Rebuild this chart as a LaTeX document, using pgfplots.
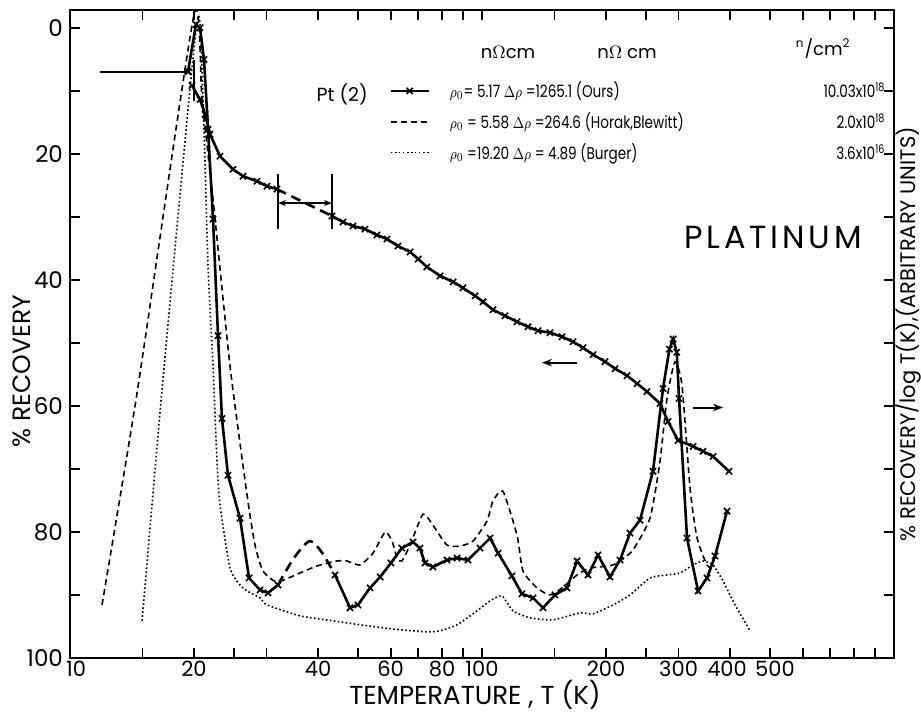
\documentclass[border=0pt]{standalone}
\usepackage{fontspec}
\setmainfont{Poppins}
\usepackage{pgfplots}
\pgfplotsset{compat=1.18}
\usetikzlibrary{arrows.meta}

\pgfplotsset{
  ours/.style={black, line width=1.3pt, mark=x, mark size=2.2pt,
    mark options={line width=0.8pt, solid}},
  gap/.style={black, line width=1.3pt, dash pattern=on 5pt off 3pt},
  horak/.style={black, line width=0.8pt, dash pattern=on 3pt off 2pt, smooth, tension=0.35},
  burger/.style={black, line width=0.8pt, dash pattern=on 0.8pt off 1.2pt, smooth, tension=0.35},
}
\newcommand{\legtext}[2]{\rule[-4pt]{0pt}{11pt}\scalebox{0.8}[1]{\makebox[272pt][l]{#1\hfill #2}}}

\begin{document}
\begin{tikzpicture}
\begin{axis}[
  scale only axis, width=412pt, height=324pt,
  xmode=log, xmin=10, xmax=1000, xminorticks=false,
  ymin=-2.8, ymax=100, y dir=reverse,
  xtick={10,15,20,25,30,40,50,60,70,80,90,100,150,200,250,300,400,500,600,700,800,900,1000},
  xticklabels={\hspace*{6pt}10,,20,,,40,,60,,80,,100,,200,,300,400\hspace*{3pt},\hspace*{5pt}500,,,,,},
  ytick={0,10,...,100},
  yticklabels={0,,20,,40,,60,,80,,100},
  major tick length=5pt,
  tick style={line width=0.9pt, black},
  axis line style={line width=1.2pt},
  yticklabel style={font=\fontsize{11.5}{13}\selectfont},
  xticklabel style={font=\fontsize{10.5}{12}\selectfont, inner sep=1.5pt},
  /pgf/number format/assume math mode=true,
  clip mode=individual,
  legend style={draw=none, fill=none, at={(rel axis cs:0.3871,0.8965)}, anchor=north west,
    inner sep=0pt, row sep=2pt, font=\fontsize{8.5}{10}\selectfont,
    /tikz/every odd column/.append style={column sep=8pt}},
  legend cell align=left,
  legend image code/.code={\draw[mark repeat=2,mark phase=2] plot coordinates {(0pt,0pt) (9.5pt,0pt) (19pt,0pt)};},
]

% recovery, ours (left axis)
\addplot[ours] coordinates {
(43.25,29.89)(45.99,30.84)(48.64,31.47)(52.0,31.95)(55.6,32.90)(58.8,33.53)(62.5,34.64)
(66.9,35.58)(70.0,36.70)(73.5,37.96)(79.1,39.38)(85.1,40.33)(89.9,41.28)(96.2,42.54)(100.6,43.49)
(106.3,44.76)(113.7,45.71)(121.6,46.66)(129.3,47.45)(136.8,48.08)(146.2,48.39)(156.4,49.03)
(166.3,49.82)(175.9,50.77)(186.0,51.87)(198.9,52.98)(210.3,54.09)(224.9,55.20)(238,56.46)
(251.4,57.73)(270.4,59.62)(282.8,62.47)(299.1,65.48)(325.3,66.42)(344.0,67.21)(363.8,68.01)
(397.7,70.38)};
\addlegendentry{\legtext{$\rho_0$= 5.17 $\Delta\rho$ =1265.1 (Ours)}{10.03x10\textsuperscript{18}}}

% derivative, Horak and Blewitt
\addplot[horak] coordinates {
(11.96,91.57)(14.54,58.04)(20.0,-2.06)(20.91,11.39)(22.24,27.20)(24.45,53.61)(26.90,74.17)
(28.12,82.08)(29.41,86.19)(31.79,87.93)(36.16,86.51)(39.77,85.40)(44.47,84.61)(47.03,84.61)
(50.57,85.24)(54.4,83.35)(58.2,80.02)(60.5,81.45)(62.2,84.14)(63.9,84.61)(66.9,82.08)
(71.9,77.18)(76.0,78.92)(82.2,82.08)(88.4,82.24)(95.1,81.45)(102.8,78.29)(106.3,75.12)
(112.4,73.54)(121.6,80.50)(125.7,86.19)(136.0,88.88)(146.2,89.99)(156.4,88.88)(170.1,86.83)
(182.9,85.72)(208.0,85.24)(231.3,83.03)(255.7,77.81)(270.4,68.80)(281.2,58.83)(294,53.0)
(305.9,56.78)(319.9,73.07)(332.7,80.97)(351.8,85.24)(367.9,86.0)};
\addlegendentry{\legtext{$\rho_0$ = 5.58 $\Delta\rho$ =264.6 (Horak,Blewitt)}{2.0x10\textsuperscript{18}}}

% derivative, Burger
\addplot[burger] coordinates {
(14.96,94.10)(16.82,55.67)(20.34,-1.0)(21.03,11.39)(21.63,37.80)(22.24,53.61)(22.74,68.80)
(23.13,75.76)(24.45,85.72)(25.86,88.41)(26.90,89.36)(28.92,90.46)(30.07,91.57)(36.16,93.31)
(43.49,94.10)(52.6,94.89)(63.2,95.52)(73.5,95.84)(79.1,95.68)(87.0,94.73)(97.2,92.52)
(104.6,90.94)(111.8,90.15)(118.9,92.52)(130.7,93.63)(148.7,93.94)(172.9,92.84)(186.0,92.99)
(208.0,91.57)(228.7,89.99)(255.7,87.30)(281.2,86.83)(302.5,86.51)(325.3,85.24)(344.0,84.61)
(363.8,85.24)(384.6,87.77)(411.3,91.57)(447.2,95.68)};
\addlegendentry{\legtext{$\rho_0$ =19.20 $\Delta\rho$ = 4.89 (Burger)}{3.6x10\textsuperscript{16}}}

% rest of the recovery curve
\addplot[black, line width=1pt, mark=x, mark size=2.2pt, mark indices={2}, forget plot]
  coordinates {(11.82,6.96)(19.34,6.96)};
\addplot[ours, forget plot] coordinates {
(19.78,9.17)(20.68,11.39)(21.27,13.76)(21.87,16.92)(23.13,20.40)(24.86,22.46)(26.30,23.57)
(28.44,24.36)(30.07,25.15)(31.79,25.62)};
\addplot[gap, forget plot] coordinates {(31.79,25.62)(43.25,29.89)};

% derivative, ours (right axis)
\addplot[ours, forget plot] coordinates {
(19.34,6.96)(20.22,-0.5)(20.68,0.0)(21.15,5.06)(21.63,16.13)(22.24,30.37)(22.87,48.87)
(23.38,62.0)(24.18,71.01)(25.86,77.81)(27.20,87.30)(28.92,89.20)(30.24,89.67)(31.97,88.41)};
\addplot[gap, smooth, forget plot] coordinates {
(31.97,88.41)(35.0,84.1)(38.23,81.45)(41.0,83.4)(43.98,86.83)};
\addplot[ours, forget plot] coordinates {
(43.98,86.83)(47.83,92.04)(50.0,91.57)(53.5,88.88)(56.6,87.14)(60.1,84.93)(63.9,82.56)
(68.0,81.61)(70.7,82.56)(72.7,84.93)(76.0,85.56)(82.2,84.45)(87.0,84.14)(92.5,84.45)
(98.9,82.56)(104.6,80.97)(109.4,83.35)(118.2,86.98)(125.0,89.83)(133.0,90.46)(140.6,92.04)
(150.4,89.99)(160.8,88.88)(170.1,84.61)(180.8,86.83)(191.2,83.66)(204.5,87.14)(216.3,84.45)
(228.7,80.18)(241.8,78.13)(260.0,70.38)(275.0,57.25)(285,51.0)(291,49.4)(297,51.5)
(300.8,58.83)(314.5,80.97)(334.5,89.36)(351.8,87.30)(367.9,83.82)(393.3,76.70)};

% markers drawn on the plot
\draw[line width=0.8pt] (axis cs:20,5.06) -- (axis cs:20,11.70);
\draw[line width=0.8pt] (axis cs:31.97,23.25) -- (axis cs:31.97,31.95);
\draw[line width=0.8pt] (axis cs:43.25,23.25) -- (axis cs:43.25,31.95);
\draw[line width=0.8pt, {Stealth[length=4pt]}-{Stealth[length=4pt]}] (axis cs:31.97,27.83) -- (axis cs:43.25,27.83);
\draw[line width=1pt, -{Stealth[length=5pt]}] (axis cs:170.1,53.14) -- (axis cs:139.8,53.14);
\draw[line width=1pt, -{Stealth[length=5pt]}] (axis cs:325.3,60.26) -- (axis cs:384.6,60.26);

% texts
\node[font=\fontsize{9}{10}\selectfont] at (rel axis cs:0.5316,0.935) {n$\Omega$cm};
\node[font=\fontsize{9}{10}\selectfont] at (rel axis cs:0.676,0.935) {n$\Omega$ cm};
\node[font=\fontsize{9}{10}\selectfont] at (rel axis cs:0.914,0.941) {\textsuperscript{n}/cm\textsuperscript{2}};
\node[font=\fontsize{9.5}{11}\selectfont, anchor=east] at (rel axis cs:0.370,0.870) {Pt (2)};
\node[font=\fontsize{16}{18}\selectfont\addfontfeatures{LetterSpace=12}, anchor=west] at (rel axis cs:0.7367,0.6497) {PLATINUM};
\node[rotate=90, font=\fontsize{12.5}{14}\selectfont] at ([xshift=-24pt]rel axis cs:0,0.443) {\% RECOVERY};
\node[rotate=90, font=\fontsize{10.5}{12}\selectfont] at ([xshift=7pt]rel axis cs:1,0.5) {\% RECOVERY/log T(K),(ARBITRARY UNITS)};
\node[font=\fontsize{13}{15}\selectfont] at ([yshift=-18.5pt]rel axis cs:0.4915,0) {TEMPERATURE , T (K)};
\end{axis}
\pgfresetboundingbox
\path[use as bounding box] ([shift={(-35pt,-27.5pt)}]current axis.south west) rectangle ([shift={(13.5pt,5pt)}]current axis.north east);
\end{tikzpicture}
\end{document}
